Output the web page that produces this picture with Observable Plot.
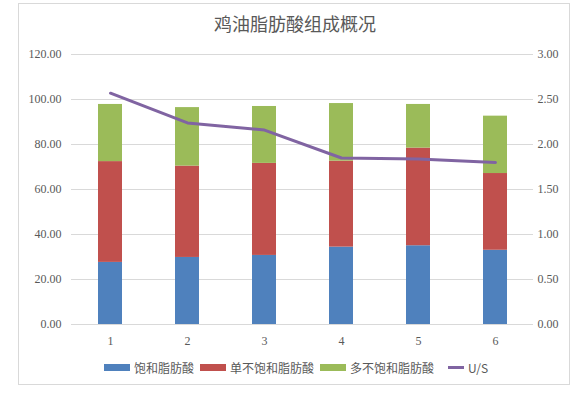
<!DOCTYPE html>
<html><head><meta charset="utf-8">
<script src="https://cdn.jsdelivr.net/npm/d3@7"></script>
<script src="https://cdn.jsdelivr.net/npm/@observablehq/plot@0.6"></script>
<style>
body{margin:0;background:#fff;}
#wrap{position:relative;width:587px;height:394px;overflow:hidden;background:#fff;}
#frame{position:absolute;left:18px;top:3px;width:552px;height:382px;border:1px solid #d9d9d9;box-sizing:border-box;}
#title{position:absolute;left:0;width:590px;top:10px;text-align:center;font-family:"Noto Sans CJK SC";font-size:18px;color:#595959;}
#chart{position:absolute;left:0;top:40px;}
#legend{position:absolute;left:104px;top:359px;font-family:"Noto Sans CJK SC";font-size:12px;color:#595959;display:flex;align-items:center;white-space:nowrap;}
.it{display:flex;align-items:center;margin-right:6px;}
.sw{display:inline-block;width:26px;height:7px;margin-right:4px;}
</style></head>
<body><div id="wrap"><div id="frame"></div><div id="title"></div><div id="chart"></div><div id="legend"></div></div>
<script>
const titleText = "鸡油脂肪酸组成概况";
const samples = ["1","2","3","4","5","6"];
const seriesNames = ["饱和脂肪酸","单不饱和脂肪酸","多不饱和脂肪酸"];
const lineName = "U/S";
const sfa  = [27.6, 29.8, 30.7, 34.4, 35.0, 33.0];
const mufa = [44.8, 40.6, 40.9, 38.2, 43.4, 34.1];
const pufa = [25.4, 26.0, 25.3, 25.6, 19.4, 25.5];
const ratio = [2.57, 2.24, 2.16, 1.85, 1.84, 1.80];
const leftTicks = [0,20,40,60,80,100,120];
const rightMax = 3, leftMax = 120;
const colors = ["#4F81BD","#C0504D","#9BBB59"];
const lineColor = "#8064A2";

const k = leftMax / rightMax;
const barData = [];
samples.forEach((s,i)=>{
  [sfa,mufa,pufa].forEach((arr,j)=>barData.push({x:s, series:seriesNames[j], value:arr[i]}));
});
const lineData = samples.map((s,i)=>({x:s, v:ratio[i]*k}));

document.getElementById("title").textContent = titleText;

const plot = Plot.plot({
  width: 587, height: 310,
  marginLeft: 71, marginRight: 54, marginTop: 14, marginBottom: 26,
  style: {fontFamily: "Liberation Serif", fontSize: "12px", color: "#595959", background: "transparent"},
  x: {domain: samples, paddingInner: 0.69, paddingOuter: 0.345, label: null},
  y: {domain: [0, leftMax], label: null},
  color: {domain: seriesNames, range: colors},
  marks: [
    Plot.gridY(leftTicks, {stroke: "#d9d9d9", strokeOpacity: 1}),
    Plot.barY(barData, {x: "x", y: "value", fill: "series"}),
    Plot.ruleY([0], {stroke: "#d9d9d9"}),
    Plot.line(lineData, {x: "x", y: "v", stroke: lineColor, strokeWidth: 3, strokeLinecap: "round", strokeLinejoin: "round"}),
    Plot.axisY(leftTicks, {anchor: "left", tickSize: 0, tickPadding: 10, tickFormat: d => d.toFixed(2), label: null, fill: "#595959"}),
    Plot.axisY(leftTicks, {anchor: "right", tickSize: 0, tickPadding: 4, tickFormat: d => (d / k).toFixed(2), label: null, fill: "#595959"}),
    Plot.axisX({tickSize: 0, tickPadding: 12, label: null, fill: "#595959"})
  ]
});
document.getElementById("chart").appendChild(plot);

const leg = document.getElementById("legend");
seriesNames.forEach((n,i)=>{
  const it = document.createElement("span"); it.className="it";
  const sw = document.createElement("span"); sw.className="sw"; sw.style.background=colors[i];
  it.appendChild(sw); it.appendChild(document.createTextNode(n)); leg.appendChild(it);
});
const it = document.createElement("span"); it.className="it";
const ln = document.createElement("span"); ln.className="sw"; ln.style.background=lineColor; ln.style.height="3px"; ln.style.width="16px";
it.appendChild(ln); it.appendChild(document.createTextNode(lineName)); it.style.marginLeft="8px"; leg.appendChild(it);
</script></body></html>
